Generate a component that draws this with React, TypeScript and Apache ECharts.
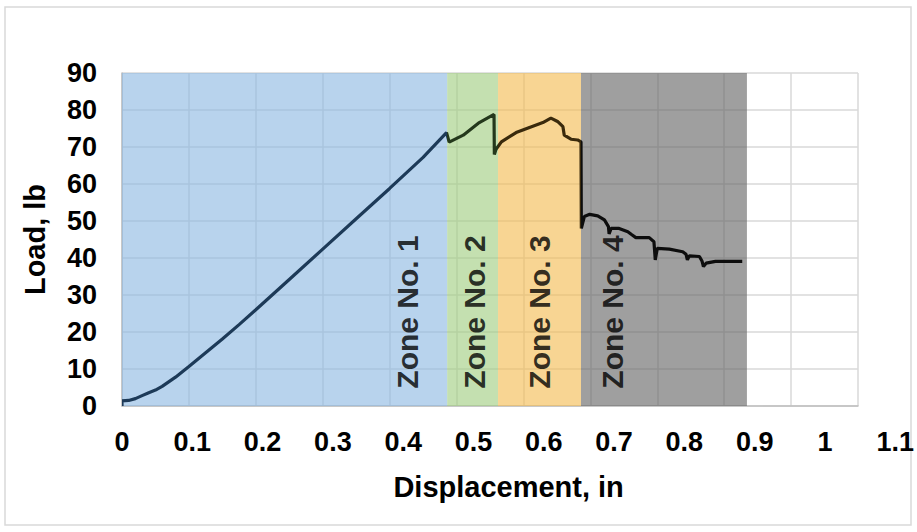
import React, { useEffect, useRef } from "react";
import * as echarts from "echarts";

const displacement = [0, 0, 0.01, 0.02, 0.03, 0.04, 0.05, 0.06, 0.08, 0.1, 0.125, 0.15, 0.175, 0.2, 0.25, 0.3, 0.35, 0.4, 0.45, 0.485, 0.489, 0.51, 0.534, 0.556, 0.5565, 0.559, 0.567, 0.589, 0.609, 0.629, 0.641, 0.651, 0.659, 0.661, 0.671, 0.681, 0.686, 0.6865, 0.691, 0.699, 0.711, 0.721, 0.727, 0.728, 0.731, 0.743, 0.756, 0.761, 0.768, 0.788, 0.795, 0.797, 0.8, 0.818, 0.838, 0.843, 0.845, 0.848, 0.863, 0.867, 0.869, 0.873, 0.887, 0.927];
const load = [0, 1.4, 1.5, 2.0, 2.8, 3.6, 4.3, 5.3, 7.8, 10.7, 14.4, 18.1, 22.0, 26.0, 34.2, 42.4, 50.6, 58.8, 67.2, 73.9, 71.3, 73.2, 76.6, 78.8, 68.0, 69.4, 71.4, 73.9, 75.3, 76.6, 77.8, 76.9, 75.5, 73.2, 72.1, 71.9, 71.4, 48.0, 51.2, 51.8, 51.4, 50.3, 48.5, 46.5, 48.0, 48.0, 47.1, 46.4, 45.5, 45.5, 44.4, 39.5, 42.6, 42.4, 41.7, 41.0, 39.5, 40.6, 40.4, 39.1, 37.7, 38.6, 39.1, 39.1];

const zoneStart = [0, 0.486, 0.562, 0.686];
const zoneEnd = [0.486, 0.562, 0.686, 0.934];
const zoneNames = ["Zone No. 1", "Zone No. 2", "Zone No. 3", "Zone No. 4"];
const zoneLabelX = [0.427, 0.527, 0.624, 0.733];
const zoneLabelY = [25.4, 25.4, 25.4, 25.4];

const xMin = 0, xMax = 1.1, xStep = 0.1;
const yMin = 0, yMax = 90, yStep = 10;

const zoneFill = ["rgba(140,184,226,0.62)", "rgba(160,205,128,0.62)", "rgba(244,188,80,0.62)", "rgba(100,100,100,0.62)"];
const zoneLine = ["#1d3a58", "#24381c", "#3a2a0c", "#0d0d0d"];
const FONT = "'Liberation Sans', Arial, sans-serif";

export default function App() {
  const ref = useRef<HTMLDivElement>(null);
  useEffect(() => {
    if (!ref.current) return;
    const chart = echarts.init(ref.current, undefined, { renderer: "svg" });
    const points = displacement.map((x, i) => [x, load[i]]);
    chart.setOption({
      animation: false,
      backgroundColor: "#ffffff",
      textStyle: { fontFamily: FONT },
      graphic: [
        { type: "rect", shape: { x: 5, y: 7, width: 906, height: 518 }, style: { fill: "none", stroke: "#d9d9d9", lineWidth: 1.5 }, silent: true, z: -1 },
      ],
      grid: [
        { left: 122, top: 73, width: 736, height: 333 },
        { left: 122, top: 73, width: 783, height: 333 },
      ],
      xAxis: [
        {
          type: "value", gridIndex: 0, min: xMin, max: xMax, interval: xStep,
          axisLabel: { show: false },
          axisTick: { show: false },
          axisLine: { show: true, lineStyle: { color: "#bfbfbf", width: 1.5 } },
          splitLine: { show: true, lineStyle: { color: "#d9d9d9", width: 1.5 } },
        },
        {
          type: "value", gridIndex: 1, min: xMin, max: xMax, interval: xStep,
          axisLabel: { show: true, color: "#000", fontSize: 27, fontWeight: "bold", fontFamily: FONT, margin: 22 },
          axisTick: { show: false },
          axisLine: { show: false },
          splitLine: { show: false },
          name: "Displacement, in", nameLocation: "middle", nameGap: 66,
          nameTextStyle: { color: "#000", fontSize: 29, fontWeight: "bold", fontFamily: FONT },
        },
      ],
      yAxis: [
        {
          type: "value", gridIndex: 0, min: yMin, max: yMax, interval: yStep,
          axisLabel: { color: "#000", fontSize: 27, fontWeight: "bold", fontFamily: FONT, margin: 25 },
          axisTick: { show: false },
          axisLine: { show: true, lineStyle: { color: "#bfbfbf", width: 1.5 } },
          splitLine: { show: true, lineStyle: { color: "#d9d9d9", width: 1.5 } },
          name: "Load, lb", nameLocation: "middle", nameGap: 73, nameRotate: 90,
          nameTextStyle: { color: "#000", fontSize: 29, fontWeight: "bold", fontFamily: FONT },
        },
        { type: "value", gridIndex: 1, min: yMin, max: yMax, show: false },
      ],
      visualMap: {
        type: "piecewise", show: false, dimension: 0, seriesIndex: 1,
        pieces: zoneStart.map((s, i) => ({ gte: s, lt: i === zoneStart.length - 1 ? 10 : zoneEnd[i], color: zoneLine[i] })),
      },
      series: [
        {
          type: "line", xAxisIndex: 0, yAxisIndex: 0, data: [], silent: true, z: 1,
          markArea: {
            silent: true,
            data: zoneStart.map((s, i) => [
              { xAxis: s, yAxis: yMin, itemStyle: { color: zoneFill[i] } },
              { xAxis: zoneEnd[i], yAxis: yMax },
            ]),
          },
        },
        {
          type: "line", xAxisIndex: 0, yAxisIndex: 0, data: points, showSymbol: false, symbol: "none",
          lineStyle: { width: 3.2 }, z: 3, silent: true,
        },
        {
          type: "scatter", xAxisIndex: 0, yAxisIndex: 0, symbolSize: 0, z: 4, silent: true,
          data: zoneNames.map((n, i) => ({ value: [zoneLabelX[i], zoneLabelY[i]], name: n })),
          label: {
            show: true, position: "inside", rotate: 90, formatter: "{b}",
            color: "#000", fontSize: 30, fontWeight: "bold", fontFamily: FONT,
          },
        },
      ],
    });
    return () => chart.dispose();
  }, []);
  return <div ref={ref} style={{ position: "absolute", left: 0, top: 0, width: 917, height: 532 }} />;
}
